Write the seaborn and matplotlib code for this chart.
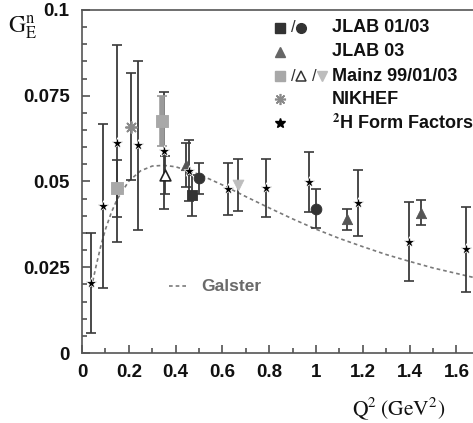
import matplotlib
matplotlib.use("Agg")
import matplotlib.pyplot as plt
import numpy as np
import pandas as pd
import seaborn as sns
from matplotlib.ticker import MultipleLocator, FixedLocator, FixedFormatter

# ---- data: neutron electric form factor G_E^n vs Q^2 (GeV^2) ----
# 2H form-factor extraction (stars)
ff_q2 = [0.04, 0.088, 0.15, 0.24, 0.35, 0.456, 0.623, 0.785, 0.97, 1.178, 1.399, 1.642]
ff_ge = [0.0204, 0.0429, 0.0612, 0.0605, 0.059, 0.0532, 0.0478, 0.0482, 0.0499, 0.0438, 0.0325, 0.0302]
ff_err = [0.0145, 0.024, 0.0287, 0.0246, 0.017, 0.0089, 0.0076, 0.0085, 0.0087, 0.0096, 0.0115, 0.0125]

# JLAB 01/03 (squares / circles)
jlab_sq_q2 = [0.471]
jlab_sq_ge = [0.046]
jlab_sq_err = [0.006]
jlab_ci_q2 = [0.501, 1.0]
jlab_ci_ge = [0.0509, 0.0421]
jlab_ci_err = [0.0045, 0.0058]

# JLAB 03 (triangles)
jlab03_q2 = [0.444, 1.131, 1.449]
jlab03_ge = [0.0548, 0.039, 0.0409]
jlab03_err = [0.0064, 0.0031, 0.0037]

# Mainz 99 / 01 / 03
mainz_sq_q2 = [0.15, 0.342]
mainz_sq_ge = [0.048, 0.0676]
mainz_sq_err = [0.0083, 0.0072]
mainz_tri_q2 = [0.355]
mainz_tri_ge = [0.0519]
mainz_tri_err = [0.0055]
mainz_dn_q2 = [0.668]
mainz_dn_ge = [0.049]
mainz_dn_err = [0.0075]

# NIKHEF
nikhef_q2 = [0.21]
nikhef_ge = [0.0659]
nikhef_err = [0.0156]

# Galster parametrisation (dashed curve)
galster_q2 = [0.04, 0.06, 0.08, 0.1, 0.125, 0.15, 0.2, 0.25, 0.3, 0.35, 0.4, 0.5,
              0.6, 0.7, 0.8, 0.9, 1.0, 1.1, 1.2, 1.3, 1.4, 1.5, 1.6, 1.7]
galster_ge = [0.0190, 0.0253, 0.0311, 0.0360, 0.0409, 0.0448, 0.0501, 0.0531, 0.0545,
              0.0547, 0.0543, 0.0521, 0.0490, 0.0456, 0.0423, 0.0391, 0.0361, 0.0334,
              0.0310, 0.0287, 0.0267, 0.0248, 0.0232, 0.0216]

x_ticks = [0, 0.2, 0.4, 0.6, 0.8, 1.0, 1.2, 1.4, 1.6]
x_tick_labels = ["0", "0.2", "0.4", "0.6", "0.8", "1", "1.2", "1.4", "1.6"]
y_ticks = [0, 0.025, 0.05, 0.075, 0.1]
y_tick_labels = ["0", "0.025", "0.05", "0.075", "0.1"]

# ---- style ----
sns.set_style("ticks")
plt.rcParams["font.family"] = ["Liberation Sans", "DejaVu Sans"]
plt.rcParams["mathtext.fontset"] = "stix"

W, H = 473, 423
fig = plt.figure(figsize=(W / 100, H / 100), dpi=100)
ax_left, ax_right, ax_top, ax_bot = 82, 473, 10, 353
ax = fig.add_axes([ax_left / W, 1 - ax_bot / H, (ax_right - ax_left) / W, (ax_bot - ax_top) / H])

err_kw = dict(fmt="none", ecolor="#3a3a3a", elinewidth=1.3, capsize=3.5, capthick=1.2, zorder=2)

# Galster curve
sns.lineplot(x=galster_q2, y=galster_ge, ax=ax, color="#7a7a7a", lw=1.2,
             linestyle=(0, (2.2, 1.8)), zorder=1)

# error bars
ax.errorbar(ff_q2, ff_ge, yerr=ff_err, **err_kw)
ax.errorbar(jlab_sq_q2, jlab_sq_ge, yerr=jlab_sq_err, **err_kw)
ax.errorbar(jlab_ci_q2, jlab_ci_ge, yerr=jlab_ci_err, **err_kw)
ax.errorbar(jlab03_q2, jlab03_ge, yerr=jlab03_err, **err_kw)
ax.errorbar(mainz_tri_q2, mainz_tri_ge, yerr=mainz_tri_err, **err_kw)
ax.errorbar(mainz_dn_q2, mainz_dn_ge, yerr=mainz_dn_err, **err_kw)
ax.errorbar(nikhef_q2, nikhef_ge, yerr=nikhef_err, **err_kw)
ax.errorbar(mainz_sq_q2[:1], mainz_sq_ge[:1], yerr=mainz_sq_err[:1], **err_kw)
ax.errorbar(mainz_sq_q2[1:], mainz_sq_ge[1:], yerr=mainz_sq_err[1:], fmt="none",
            ecolor="#9a9a9a", elinewidth=4, capsize=3.5, capthick=1.2, zorder=2)

# markers
def pts(q2, ge, **kw):
    df = pd.DataFrame({"q2": q2, "ge": ge})
    sns.scatterplot(data=df, x="q2", y="ge", ax=ax, legend=False, zorder=4, **kw)

pts(mainz_sq_q2, mainz_sq_ge, marker="s", s=65, color="#a8a8a8", edgecolor="#a8a8a8")
pts(nikhef_q2, nikhef_ge, marker=(8, 2, 0), s=65, color="#8a8a8a", linewidth=1.3)
pts(jlab_sq_q2, jlab_sq_ge, marker="s", s=60, color="#333333", edgecolor="#333333")
pts(jlab_ci_q2, jlab_ci_ge, marker="o", s=60, color="#333333", edgecolor="#333333")
pts(jlab03_q2, jlab03_ge, marker="^", s=55, color="#555555", edgecolor="#555555")
pts(mainz_tri_q2, mainz_tri_ge, marker="^", s=60, color="white", edgecolor="#222222", linewidth=1.2)
pts(mainz_dn_q2, mainz_dn_ge, marker="v", s=60, color="#bdbdbd", edgecolor="#bdbdbd")
pts(ff_q2, ff_ge, marker="*", s=70, color="black", edgecolor="white", linewidth=0.5)

# axes
ax.set_xlim(0, (ax_right - ax_left) / 234.0)
ax.set_ylim(0, 0.1)
ax.xaxis.set_major_locator(FixedLocator(x_ticks))
ax.xaxis.set_major_formatter(FixedFormatter(x_tick_labels))
ax.xaxis.set_minor_locator(MultipleLocator(0.1))
ax.yaxis.set_major_locator(FixedLocator(y_ticks))
ax.yaxis.set_major_formatter(FixedFormatter(y_tick_labels))
ax.yaxis.set_minor_locator(MultipleLocator(0.005))
ax.tick_params(which="both", direction="in", color="#444444", width=1.1,
               top=False, right=False)
ax.tick_params(which="major", length=6)
ax.tick_params(which="minor", length=3.5)
ax.tick_params(axis="x", which="major", pad=8)
ax.tick_params(axis="y", which="major", pad=9)
for lab in ax.get_xticklabels() + ax.get_yticklabels():
    lab.set_fontsize(13.5)
    lab.set_fontweight("bold")
    lab.set_color("#111111")
for side in ["left", "bottom", "top"]:
    ax.spines[side].set_color("#555555")
    ax.spines[side].set_linewidth(1.2)
ax.spines["right"].set_visible(False)
ax.set_xlabel("")
ax.set_ylabel("")

# axis titles
fig.text(8 / W, 1 - 27 / H, r"$\mathrm{G}_{\mathrm{E}}^{\mathrm{n}}$", fontsize=17,
         ha="left", va="center", color="#111111")
fig.text(399 / W, 1 - 409 / H, r"$\mathrm{Q}^{2}\;(\mathrm{GeV}^{2})$", fontsize=15.5,
         ha="center", va="center", color="#111111")

# legend drawn as marker glyphs and labels
def fx(px):
    return (px - ax_left) / (ax_right - ax_left)

def fy(py):
    return (ax_bot - py) / (ax_bot - ax_top)

leg_kw = dict(transform=ax.transAxes, clip_on=False, zorder=6, ls="none")
txt_kw = dict(transform=ax.transAxes, fontsize=13, fontweight="bold", va="center",
              ha="left", color="#111111")
sl_kw = dict(transform=ax.transAxes, fontsize=12, va="center", ha="center", color="#333333")

rows = [28, 52, 76, 99, 123]
labels = ["JLAB 01/03", "JLAB 03", "Mainz 99/01/03", "NIKHEF", r"$^{\mathbf{2}}$H Form Factors"]
mx, s1, m2, s2, m3, lx = fx(280), fx(293), fx(300.5), fx(314), fx(321.5), fx(332)

ax.plot([mx], [fy(rows[0])], marker="s", ms=7, color="#333333", **leg_kw)
ax.text(s1, fy(rows[0]), "/", **sl_kw)
ax.plot([m2], [fy(rows[0])], marker="o", ms=7, color="#333333", **leg_kw)
ax.plot([mx], [fy(rows[1])], marker="^", ms=7, color="#666666", **leg_kw)
ax.plot([mx], [fy(rows[2])], marker="s", ms=7, color="#a8a8a8", **leg_kw)
ax.text(s1, fy(rows[2]), "/", **sl_kw)
ax.plot([m2], [fy(rows[2])], marker="^", ms=7, mfc="white", mec="#333333", mew=1.1, **leg_kw)
ax.text(s2, fy(rows[2]), "/", **sl_kw)
ax.plot([m3], [fy(rows[2])], marker="v", ms=7, color="#bdbdbd", **leg_kw)
ax.plot([mx], [fy(rows[3])], marker=(8, 2, 0), ms=8, mew=1.2, color="#8a8a8a", **leg_kw)
ax.plot([mx], [fy(rows[4])], marker="*", ms=7.5, color="black", **leg_kw)
for r, lab in zip(rows, labels):
    ax.text(lx, fy(r), lab, **txt_kw)

# curve label
ax.plot([fx(169), fx(189)], [fy(286), fy(286)], color="#7a7a7a", lw=1.2,
        linestyle=(0, (2.2, 1.8)), transform=ax.transAxes)
ax.text(fx(201), fy(286), "Galster", transform=ax.transAxes, fontsize=12.5,
        fontweight="bold", color="#6a6a6a", va="center", ha="left")

fig.savefig("out.png", dpi=100)
